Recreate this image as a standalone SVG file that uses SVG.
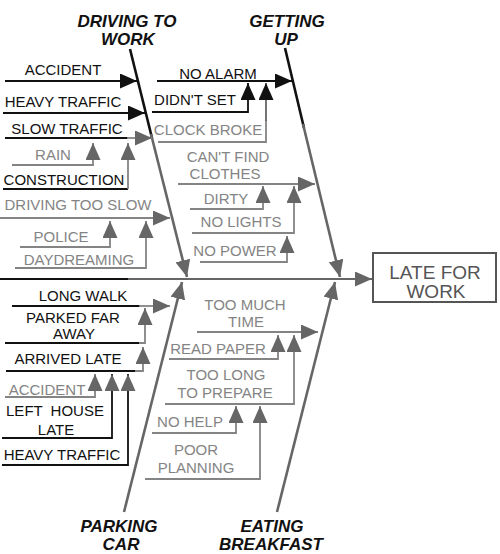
<svg xmlns="http://www.w3.org/2000/svg" width="500" height="554" viewBox="0 0 500 554">
<defs>
<style>
text{font-family:"Liberation Sans",Arial,Helvetica,sans-serif;font-size:15px;text-anchor:middle}
.k{fill:#111}
.g{fill:#848484}
.lbl{font-weight:bold;font-style:italic;font-size:17px;fill:#111}
.box{fill:#555;font-size:19px}
line,polyline{fill:none;stroke-width:1.8}
.lk{stroke:#111}
.lg{stroke:#848484}
.ld{stroke:#666}
.bone{stroke:#666;stroke-width:2.6}
.boneK{stroke:#111;stroke-width:2.6}
.ak{marker-end:url(#mk)}
.ag{marker-end:url(#mg)}
</style>
<marker id="mk" markerUnits="userSpaceOnUse" markerWidth="17" markerHeight="15" refX="17" refY="7.5" orient="auto"><path d="M0,0 L17,7.5 L0,15 z" fill="#111"/></marker>
<marker id="mg" markerUnits="userSpaceOnUse" markerWidth="17" markerHeight="15" refX="17" refY="7.5" orient="auto"><path d="M0,0 L17,7.5 L0,15 z" fill="#666"/></marker>
</defs>
<rect width="500" height="554" fill="#fff"/>

<g id="connectors">
<line x1="0" y1="279" x2="130" y2="279" stroke="#111" stroke-width="3"/>
<line class="ld ag" x1="128" y1="279" x2="372" y2="279" stroke-width="2"/>
<line class="boneK" x1="130" y1="49" x2="152" y2="138"/>
<line class="bone ag" x1="151" y1="134" x2="187" y2="277"/>
<line class="boneK" x1="285" y1="48" x2="304" y2="128"/>
<line class="bone ag" x1="303" y1="124" x2="340" y2="277"/>
<line class="bone ag" x1="124" y1="512" x2="182" y2="282"/>
<line class="bone ag" x1="277" y1="512" x2="335" y2="282"/>
<line class="lk ak" x1="5" y1="81" x2="137" y2="81"/>
<line class="lk ak" x1="3" y1="113" x2="145" y2="113"/>
<line class="lk" x1="5" y1="138" x2="128" y2="138"/>
<line class="lg ag" x1="127" y1="138" x2="152" y2="138"/>
<polyline class="lg ag" points="12,165 93,165 93,143"/>
<line class="lk" x1="3" y1="189" x2="128" y2="189"/>
<polyline class="lg ag" points="128,189 128,143"/>
<line class="lg ag" x1="0" y1="218" x2="170" y2="218"/>
<polyline class="lg ag" points="20,247 110,247 110,221"/>
<polyline class="lg ag" points="15,268 146,268 146,221"/>
<line class="lk ak" x1="157" y1="81" x2="292" y2="81"/>
<polyline class="lk ak" points="152,112 248,112 248,83"/>
<polyline class="lg" points="158,142 266,142 266,120"/>
<line class="ld ak" x1="266" y1="121" x2="266" y2="83"/>
<line class="lg ag" x1="178" y1="184" x2="315" y2="184"/>
<polyline class="lg ag" points="190,209 263,209 263,186"/>
<polyline class="lg ag" points="192,233 294,233 294,186"/>
<polyline class="lg ag" points="200,262 287,262 287,236"/>
<line class="lk" x1="12" y1="306" x2="140" y2="306"/>
<line class="lg ag" x1="139" y1="306" x2="170" y2="306"/>
<polyline class="lk" points="5,343 140,343"/>
<polyline class="lg ag" points="139,343 145,343 145,308"/>
<polyline class="lk" points="6,371 136,371"/>
<polyline class="lg ag" points="135,371 143,371 143,347"/>
<polyline class="lg ag" points="5,397 95,397 95,374"/>
<polyline class="lk ag" points="2,438 112,438 112,374"/>
<polyline class="lk ag" points="2,465 128,465 128,374"/>
<line class="lg ag" x1="197" y1="332" x2="318" y2="332"/>
<polyline class="lg ag" points="169,359 278,359 278,335"/>
<polyline class="lg ag" points="165,404 294,404 294,335"/>
<polyline class="lg ag" points="152,433 236,433 236,406"/>
<polyline class="lg ag" points="145,479 260,479 260,406"/>
</g>

<g id="driving-to-work">
<text class="lbl" x="127" y="27">DRIVING TO</text>
<text class="lbl" x="128" y="45">WORK</text>
<text class="k" x="63" y="75">ACCIDENT</text>
<text class="k" x="63" y="107">HEAVY TRAFFIC</text>
<text class="k" x="67" y="134">SLOW TRAFFIC</text>
<text class="g" x="53" y="160">RAIN</text>
<text class="k" x="64" y="185">CONSTRUCTION</text>
<text class="g" x="78" y="210">DRIVING TOO SLOW</text>
<text class="g" x="61" y="242">POLICE</text>
<text class="g" x="79" y="265">DAYDREAMING</text>
</g>

<g id="getting-up">
<text class="lbl" x="287" y="27">GETTING</text>
<text class="lbl" x="286" y="45">UP</text>
<text class="k" x="218" y="79">NO ALARM</text>
<text class="k" x="195" y="105">DIDN'T SET</text>
<text class="g" x="208" y="135">CLOCK BROKE</text>
<text class="g" x="228" y="162">CAN'T FIND</text>
<text class="g" x="225" y="179">CLOTHES</text>
<text class="g" x="226" y="204">DIRTY</text>
<text class="g" x="241" y="227">NO LIGHTS</text>
<text class="g" x="235" y="256">NO POWER</text>
</g>

<g id="parking-car">
<text class="lbl" x="119" y="532">PARKING</text>
<text class="lbl" x="121" y="550">CAR</text>
<text class="k" x="83" y="301">LONG WALK</text>
<text class="k" x="73" y="323">PARKED FAR</text>
<text class="k" x="74" y="339">AWAY</text>
<text class="k" x="68" y="364">ARRIVED LATE</text>
<text class="g" x="47" y="395">ACCIDENT</text>
<text class="k" x="55" y="416" word-spacing="4">LEFT HOUSE</text>
<text class="k" x="56" y="435">LATE</text>
<text class="k" x="62" y="460">HEAVY TRAFFIC</text>
</g>

<g id="eating-breakfast">
<text class="lbl" x="272" y="532">EATING</text>
<text class="lbl" x="271" y="550">BREAKFAST</text>
<text class="g" x="245" y="310">TOO MUCH</text>
<text class="g" x="246" y="327">TIME</text>
<text class="g" x="218" y="354">READ PAPER</text>
<text class="g" x="226" y="380">TOO LONG</text>
<text class="g" x="225" y="398">TO PREPARE</text>
<text class="g" x="190" y="427">NO HELP</text>
<text class="g" x="196" y="455">POOR</text>
<text class="g" x="196" y="473">PLANNING</text>
</g>

<g id="late-for-work">
<rect x="373" y="253" width="123" height="49" fill="none" stroke="#555" stroke-width="2"/>
<text class="box" x="435" y="279">LATE FOR</text>
<text class="box" x="436" y="298">WORK</text>
</g>
</svg>
